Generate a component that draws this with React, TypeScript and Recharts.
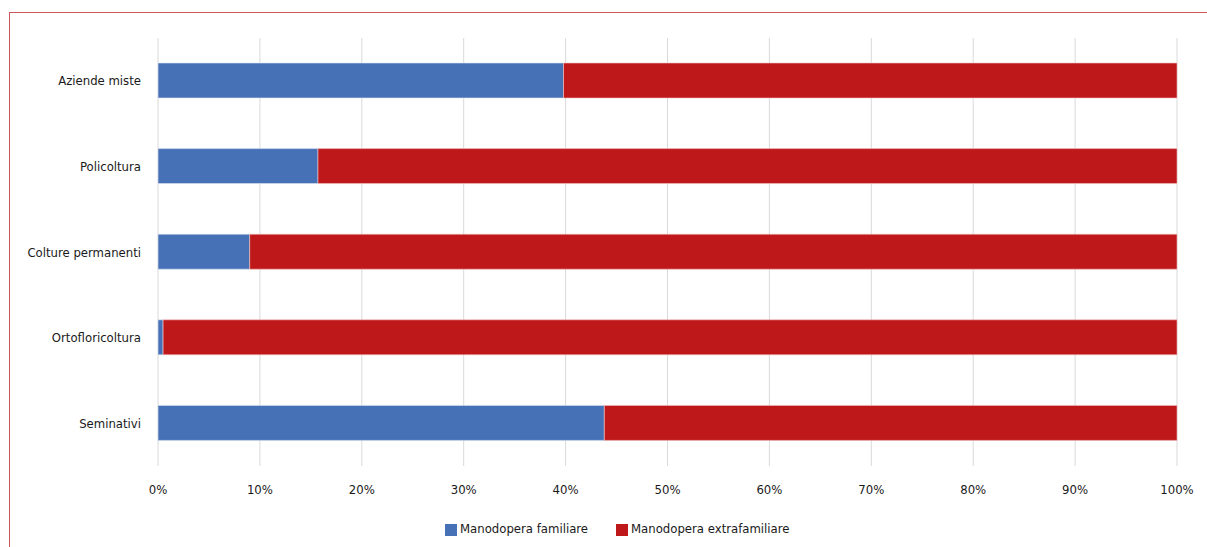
import { Bar, BarChart, CartesianGrid, Legend, XAxis, YAxis } from "recharts";

const categories = ["Aziende miste", "Policoltura", "Colture permanenti", "Ortofloricoltura", "Seminativi"];
const familiare = [39.8, 15.7, 9.0, 0.5, 43.8];
const extrafamiliare = [60.2, 84.3, 91.0, 99.5, 56.2];
const xTicks = [0, 10, 20, 30, 40, 50, 60, 70, 80, 90, 100];

const BLUE = "#4771b7";
const RED = "#bf181a";
const FONT = "'Liberation Sans Narrow', 'DejaVu Sans Condensed', sans-serif";

const data = categories.map((name, i) => ({
  name,
  familiare: familiare[i],
  extrafamiliare: extrafamiliare[i],
}));

const legendItems = [
  { label: "Manodopera familiare", color: BLUE },
  { label: "Manodopera extrafamiliare", color: RED },
];

function ChartLegend() {
  return (
    <div
      style={{
        display: "flex",
        justifyContent: "flex-start",
        paddingLeft: 445,
        gap: 28,
        fontFamily: FONT,
        fontSize: 13,
        color: "#1a1a1a",
        height: 18,
      }}
    >
      {legendItems.map((it) => (
        <div key={it.label} style={{ display: "flex", alignItems: "center" }}>
          <span style={{ width: 12, height: 12, background: it.color, marginRight: 3, marginTop: 3 }} />
          <span>{it.label}</span>
        </div>
      ))}
    </div>
  );
}

export default function App() {
  return (
    <div style={{ position: "absolute", left: 0, top: 0, width: 1207, height: 547, background: "#fff" }}>
      <div
        style={{
          position: "absolute",
          left: 9,
          top: 12,
          width: 1198,
          height: 535,
          borderTop: "1.5px solid #c9575e",
          borderLeft: "1.5px solid #c9575e",
        }}
      />
      <BarChart
        width={1207}
        height={547}
        data={data}
        layout="vertical"
        barSize={35}
        margin={{ top: 38, right: 30, bottom: 23, left: 0 }}
        style={{ position: "absolute", left: 0, top: 0 }}
      >
        <CartesianGrid horizontal={false} stroke="#d9d9d9" />
        <XAxis
          type="number"
          domain={[0, 100]}
          ticks={xTicks}
          tickFormatter={(v) => `${v}%`}
          axisLine={false}
          tickLine={false}
          tick={{ fill: "#1a1a1a", fontSize: 13, fontFamily: FONT }}
          tickMargin={13}
          height={40}
        />
        <YAxis
          type="category"
          dataKey="name"
          width={158}
          axisLine={false}
          tickLine={false}
          tick={{ fill: "#1a1a1a", fontSize: 13, fontFamily: FONT }}
          tickMargin={11}
        />
        <Legend content={<ChartLegend />} verticalAlign="bottom" wrapperStyle={{ bottom: 10, left: 0, width: 1207 }} />
        <Bar dataKey="familiare" stackId="a" fill={BLUE} stroke="#dfe6f2" strokeWidth={0.6} isAnimationActive={false} />
        <Bar dataKey="extrafamiliare" stackId="a" fill={RED} stroke="#f0c4c4" strokeWidth={0.6} isAnimationActive={false} />
      </BarChart>
    </div>
  );
}
